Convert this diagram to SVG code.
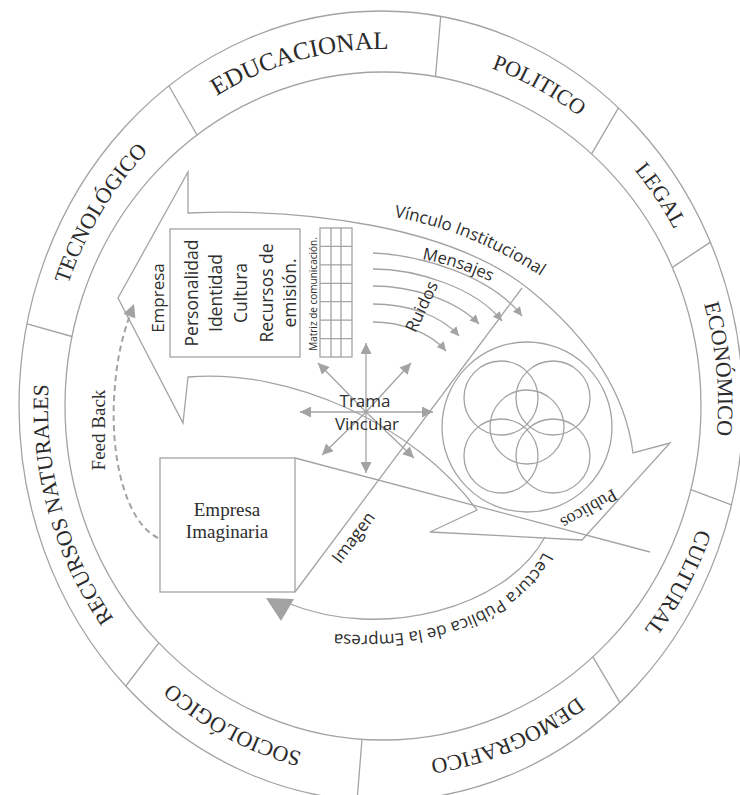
<svg xmlns="http://www.w3.org/2000/svg" xmlns:xlink="http://www.w3.org/1999/xlink" width="740" height="795" viewBox="0 0 740 795">
<style>
.ln{fill:none;stroke:#a3a3a3;stroke-width:1.3}
.dash{fill:none;stroke:#a3a3a3;stroke-width:2;stroke-dasharray:6 4}
.ring{font-family:"Liberation Serif","Times New Roman",serif;font-size:22px;fill:#2b2b2b}
.sans{font-family:"Open Sans","Noto Sans",sans-serif;fill:#2e2e2e}
.serif{font-family:"Liberation Serif","Times New Roman",serif;fill:#2e2e2e}
.head{fill:#a3a3a3}
</style>
<defs>
<marker id="ah" viewBox="0 0 10 10" refX="10" refY="5" markerWidth="14" markerHeight="11" markerUnits="userSpaceOnUse" orient="auto"><path d="M0,0 L10,5 L0,10 Z" fill="#a3a3a3"/></marker>
<marker id="ahs" viewBox="0 0 10 10" refX="10" refY="5" markerWidth="12" markerHeight="9" markerUnits="userSpaceOnUse" orient="auto"><path d="M0,0 L10,5 L0,10 Z" fill="#a3a3a3"/></marker>
<marker id="ahf" viewBox="0 0 10 10" refX="10" refY="5" markerWidth="16" markerHeight="13" markerUnits="userSpaceOnUse" orient="auto"><path d="M0,0 L10,5 L0,10 Z" fill="#a3a3a3"/></marker>
<path id="ringPath" d="M383,49 A335,357 0 1,1 383,763 A335,357 0 1,1 383,49"/>
<path id="vincPath" d="M394,217 Q478,232 556,286"/>
<path id="mensPath" d="M422,259 Q458,266 494,283"/>
<path id="lectPath" d="M545,548 C515,615 420,645 318,632"/>
</defs>

<g id="ring">
<ellipse class="ln" cx="381" cy="406" rx="362" ry="395"/>
<ellipse class="ln" cx="383" cy="406" rx="318" ry="334"/>
<line class="ln" x1="197" y1="135" x2="169" y2="86"/>
<line class="ln" x1="435.5" y1="76.7" x2="440.7" y2="16.5"/>
<line class="ln" x1="591.6" y1="153.8" x2="618.5" y2="107.8"/>
<line class="ln" x1="672.4" y1="267.4" x2="710.4" y2="242.1"/>
<line class="ln" x1="690.8" y1="489.6" x2="731.4" y2="504.8"/>
<line class="ln" x1="592.9" y1="656.8" x2="619.9" y2="702.6"/>
<line class="ln" x1="362" y1="739.3" x2="357.1" y2="800"/>
<line class="ln" x1="158.8" y1="642.8" x2="125.8" y2="686"/>
<line class="ln" x1="72" y1="336.5" x2="27" y2="323.8"/>
</g>

<g id="seg-educacional"><text class="ring" style="font-size:25px"><textPath href="#ringPath" startOffset="96.1%" text-anchor="middle">EDUCACIONAL</textPath></text></g>
<g id="seg-politico"><text class="ring"><textPath href="#ringPath" startOffset="7.4%" text-anchor="middle">POLITICO</textPath></text></g>
<g id="seg-legal"><text class="ring"><textPath href="#ringPath" startOffset="14.9%" text-anchor="middle">LEGAL</textPath></text></g>
<g id="seg-economico"><text class="ring"><textPath href="#ringPath" startOffset="23.3%" text-anchor="middle">ECONÓMICO</textPath></text></g>
<g id="seg-cultural"><text class="ring"><textPath href="#ringPath" startOffset="33.4%" text-anchor="middle">CULTURAL</textPath></text></g>
<g id="seg-demografico"><text class="ring"><textPath href="#ringPath" startOffset="44.1%" text-anchor="middle">DEMOGRAFICO</textPath></text></g>
<g id="seg-sociologico"><text class="ring"><textPath href="#ringPath" startOffset="57.2%" text-anchor="middle">SOCIOLÓGICO</textPath></text></g>
<g id="seg-recursos"><text class="ring"><textPath href="#ringPath" startOffset="70.3%" text-anchor="middle">RECURSOS NATURALES</textPath></text></g>
<g id="seg-tecnologico"><text class="ring"><textPath href="#ringPath" startOffset="84.3%" text-anchor="middle">TECNOLÓGICO</textPath></text></g>

<g id="vinculo-arrow">
<path class="ln" d="M118,298 L188,172 L188,213 C300,208 450,225 530,290 C585,335 625,390 633,453 L670,443 L582,540 L430,532 L477,510 C415,425 290,368 188,377 L183,423 Z"/>
<text class="sans" font-size="17"><textPath href="#vincPath">Vínculo Institucional</textPath></text>
<text class="sans" font-size="16.5"><textPath href="#mensPath">Mensajes</textPath></text>
<text class="sans" font-size="17" text-anchor="middle" transform="rotate(-90 164 298)" x="164" y="298">Empresa</text>
</g>

<g id="empresa-box">
<rect class="ln" x="170" y="229" width="130" height="128"/>
<g class="sans" font-size="17.5" text-anchor="middle">
<text transform="rotate(-90 198 293)" x="198" y="293">Personalidad</text>
<text transform="rotate(-90 222 293)" x="222" y="293">Identidad</text>
<text transform="rotate(-90 247 293)" x="247" y="293">Cultura</text>
<text transform="rotate(-90 273 293)" x="273" y="293">Recursos de</text>
<text transform="rotate(-90 296 293)" x="296" y="293">emisión.</text>
</g>
</g>

<g id="matriz">
<rect class="ln" x="320" y="228" width="32" height="129"/>
<path class="ln" d="M331,228 V357 M341,228 V357 M320,246.4 H352 M320,264.9 H352 M320,283.3 H352 M320,301.7 H352 M320,320.1 H352 M320,338.6 H352"/>
<text class="sans" font-size="10" text-anchor="middle" transform="rotate(-90 317 294)" x="317" y="294">Matriz de comunicación.</text>
</g>

<g id="connectors">
<path class="ln" marker-end="url(#ahs)" d="M373,253 C420,255 490,275 522,316"/>
<path class="ln" marker-end="url(#ahs)" d="M373,269 C415,269 475,287 502,321"/>
<path class="ln" marker-end="url(#ahs)" d="M373,286 C410,286 455,299 479,324"/>
<path class="ln" marker-end="url(#ahs)" d="M373,304 C405,304 440,314 459,336"/>
<path class="ln" marker-end="url(#ahs)" d="M373,322 C400,322 430,332 446,351"/>
<line class="ln" marker-end="url(#ah)" x1="366" y1="412" x2="366" y2="343"/>
<line class="ln" marker-end="url(#ah)" x1="366" y1="412" x2="366" y2="473"/>
<line class="ln" marker-end="url(#ah)" x1="366" y1="412" x2="300" y2="412"/>
<line class="ln" marker-end="url(#ah)" x1="366" y1="412" x2="433" y2="412"/>
<line class="ln" marker-end="url(#ah)" x1="366" y1="412" x2="318" y2="363"/>
<line class="ln" marker-end="url(#ah)" x1="366" y1="412" x2="411" y2="363"/>
<line class="ln" marker-end="url(#ah)" x1="366" y1="412" x2="322" y2="455"/>
<line class="ln" marker-end="url(#ah)" x1="366" y1="412" x2="414" y2="458"/>
<line class="ln" x1="295" y1="592" x2="522" y2="288"/>
<line class="ln" x1="295" y1="458" x2="650" y2="552"/>
<path class="ln" d="M545,537 C505,610 380,640 290,604"/>
<polygon class="head" points="266,598 294,599 281,621"/>
<path class="dash" marker-end="url(#ahf)" d="M158,538 C126,522 111,460 114,400 C116,362 121,338 134,304"/>
</g>

<g id="ruidos-label"><text class="sans" font-size="17" text-anchor="middle" transform="rotate(-65 427 309)" x="427" y="309">Ruidos</text></g>
<g id="trama-label"><text class="sans" font-size="17" text-anchor="middle" x="365" y="407">Trama</text><text class="sans" font-size="17" text-anchor="middle" x="367" y="430">Vincular</text></g>

<g id="publicos">
<circle class="ln" cx="527" cy="427" r="85"/>
<circle class="ln" cx="527" cy="427" r="37"/>
<circle class="ln" cx="501" cy="398" r="37"/>
<circle class="ln" cx="553" cy="398" r="37"/>
<circle class="ln" cx="501" cy="456" r="37"/>
<circle class="ln" cx="553" cy="456" r="37"/>
<text class="serif" font-size="18" text-anchor="middle" transform="rotate(150 586 504)" x="586" y="504">Publicos</text>
</g>

<g id="empresa-imaginaria">
<rect class="ln" x="160" y="458" width="135" height="134"/>
<text class="serif" font-size="19" text-anchor="middle" x="227" y="516">Empresa</text>
<text class="serif" font-size="19" text-anchor="middle" x="227" y="538">Imaginaria</text>
</g>

<g id="imagen-label"><text class="sans" font-size="17" text-anchor="middle" transform="rotate(-53 358 541)" x="358" y="541">Imagen</text></g>
<g id="feedback-label"><text class="serif" font-size="19" text-anchor="middle" transform="rotate(-90 105 430)" x="105" y="430">Feed Back</text></g>
<g id="lectura-label"><text class="sans" font-size="17"><textPath href="#lectPath" startOffset="4">Lectura Pública de la Empresa</textPath></text></g>
</svg>
